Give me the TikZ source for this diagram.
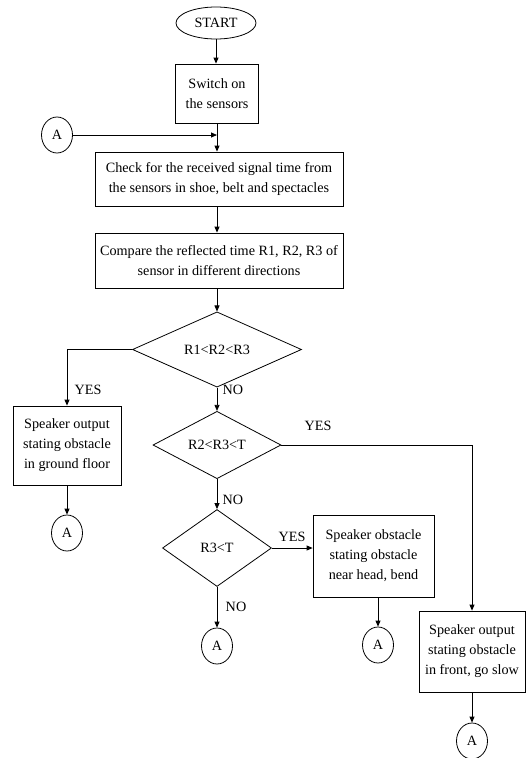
\documentclass[tikz,border=0pt]{standalone}
\usepackage{fontspec}
\setmainfont{Liberation Serif}
\usetikzlibrary{shapes.geometric,arrows.meta}
\begin{document}
\begin{tikzpicture}[x=1pt,y=-1pt,
  txt/.style={font=\fontsize{14.2}{20}\selectfont},
  box/.style={draw, rectangle, line width=0.8pt, align=center, inner sep=2pt, txt},
  dec/.style={draw, diamond, line width=0.8pt, inner sep=0pt, txt},
  conn/.style={draw, ellipse, line width=0.8pt, minimum width=31pt, minimum height=36pt, inner sep=0pt, txt},
  term/.style={draw, ellipse, line width=0.8pt, minimum width=80pt, minimum height=32pt, inner sep=0pt, txt},
  arr/.style={-{Triangle[length=6pt,width=5pt]}, line width=0.8pt},
  lbl/.style={txt, inner sep=0pt}]
\useasboundingbox (0,0) rectangle (532,758);

\node[term] (start) at (216,23) {START};
\node[box, minimum width=83pt, minimum height=59pt] (sw) at (217,93.5) {Switch on\\the sensors};
\node[conn] (cA) at (57,135) {A};
\node[box, minimum width=248pt, minimum height=54pt] (chk) at (219,179) {Check for the received signal time from\\the sensors in shoe, belt and spectacles};
\node[box, minimum width=248pt, minimum height=55pt] (cmp) at (219,260.5) {Compare the reflected time R1, R2, R3 of\\sensor in different directions};
\node[dec, minimum width=169pt, minimum height=63pt] (d1) at (217,349.5) {R1<R2<R3};
\node[box, minimum width=108pt, minimum height=79pt] (gf) at (67,445.5) {Speaker output\\stating obstacle\\in ground floor};
\node[dec, minimum width=128pt, minimum height=64pt] (d2) at (217,445) {R2<R3<T};
\node[dec, minimum width=109pt, minimum height=77pt] (d3) at (217,548) {R3<T};
\node[box, minimum width=121pt, minimum height=82pt] (hd) at (373.5,556) {Speaker obstacle\\stating obstacle\\near head, bend};
\node[box, minimum width=106pt, minimum height=81pt] (fr) at (472,651.5) {Speaker output\\stating obstacle\\in front, go slow};
\node[conn] (a1) at (67,533) {A};
\node[conn] (a2) at (217,646) {A};
\node[conn] (a3) at (378,645) {A};
\node[conn] (a4) at (472,741) {A};

\node[lbl] (yes1) at (88,390) {YES};
\node[lbl] (no1) at (233,390) {NO};
\node[lbl] (yes2) at (318,426) {YES};
\node[lbl] (no2) at (233,500) {NO};
\node[lbl] (yes3) at (292,537) {YES};
\node[lbl] (no3) at (236,607) {NO};

\draw[arr] (start) -- (start.south |- sw.north);
\draw[arr] (sw.south) -- (sw.south |- chk.north);
\draw[arr] (cA.east) -- (cA.east -| sw.south);
\draw[arr] (sw.south |- chk.south) -- (sw.south |- cmp.north);
\draw[arr] (sw.south |- cmp.south) -- (d1.north);
\draw[arr] (d1.west) -| (gf.north);
\draw[arr] (d1.south) -- (d2.north);
\draw[arr] (d2.east) -| (fr.north);
\draw[arr] (d2.south) -- (d3.north);
\draw[arr] (d3.east) -- (d3.east -| hd.west);
\draw[arr] (d3.south) -- (a2.north);
\draw[arr] (gf.south) -- (a1.north);
\draw[arr] (hd.south -| a3.north) -- (a3.north);
\draw[arr] (fr.south) -- (a4.north);
\end{tikzpicture}
\end{document}
